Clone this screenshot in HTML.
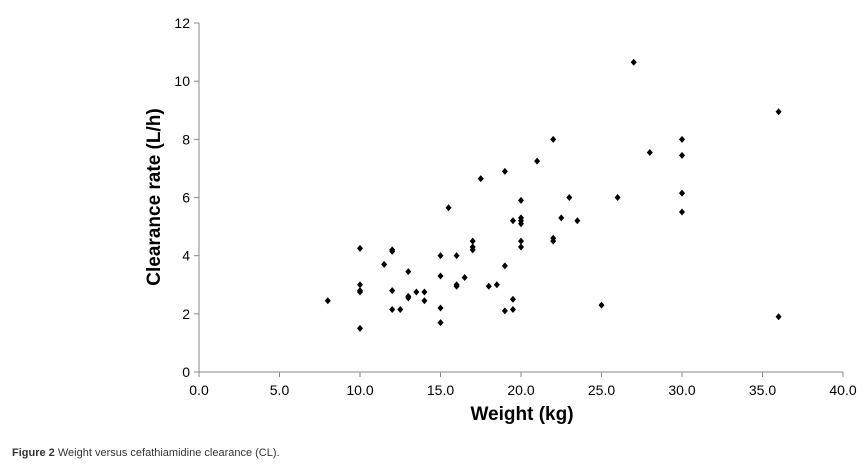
<!DOCTYPE html>
<html><head><meta charset="utf-8"><style>
body{margin:0;background:#fff;width:868px;height:462px;overflow:hidden;font-family:"Liberation Sans",sans-serif}
</style></head><body>
<svg width="868" height="462" id="chart">
<g id="axes"></g><g id="pts"></g>
<text x="12" y="456" font-size="11" fill="#333"><tspan font-weight="bold">Figure 2</tspan> Weight versus cefathiamidine clearance (CL).</text>
<text x="522" y="420" font-size="19" font-weight="bold" text-anchor="middle">Weight (kg)</text>
<text transform="translate(160,197) rotate(-90)" font-size="19" font-weight="bold" text-anchor="middle">Clearance rate (L/h)</text>
</svg>
<script>
const weights=[8,10,10,10,10,10,11.5,12,12,12,12,12.5,13,13,13,13.5,14,14,15,15,15,15,15.5,16,16,16,16.5,17,17,17,17.5,18,18.5,19,19,19,19.5,19.5,19.5,20,20,20,20,20,20,21,22,22,22,22.5,23,23.5,25,26,27,28,30,30,30,30,36,36];
const clearances=[2.45,4.25,3.0,2.8,2.75,1.5,3.7,4.2,4.15,2.8,2.15,2.15,3.45,2.6,2.55,2.75,2.75,2.45,4.0,3.3,2.2,1.7,5.65,4.0,3.0,2.95,3.25,4.5,4.3,4.2,6.65,2.95,3.0,6.9,3.65,2.1,5.2,2.5,2.15,5.9,5.3,5.1,4.5,4.3,5.2,7.25,8.0,4.6,4.5,5.3,6.0,5.2,2.3,6.0,10.65,7.55,8.0,7.45,6.15,5.5,8.95,1.9];
const xTicks=[0,5,10,15,20,25,30,35,40];
const yTicks=[0,2,4,6,8,10,12];
const NS="http://www.w3.org/2000/svg";
const X=v=>199+v*16.1, Y=v=>372-v*29.08;
function mk(t,a,p){const e=document.createElementNS(NS,t);for(const k in a)e.setAttribute(k,a[k]);p.appendChild(e);return e;}
const ax=document.getElementById('axes'), pts=document.getElementById('pts');
const xl=mk('line',{x1:X(0),y1:Y(0),x2:X(40),y2:Y(0),stroke:'#888','stroke-width':1},ax);


const yl=mk('line',{x1:X(0),y1:Y(0),x2:X(0),y2:Y(12),stroke:'#888','stroke-width':1},ax);


xTicks.forEach(v=>{
 mk('line',{x1:X(v),y1:Y(0),x2:X(v),y2:Y(0)+5,stroke:'#888'},ax);
 const t=mk('text',{x:X(v),y:Y(0)+23,'font-size':14,'text-anchor':'middle'},ax);
 t.textContent=v.toFixed(1);
 
 
});
yTicks.forEach(v=>{
 mk('line',{x1:X(0)-5,y1:Y(v),x2:X(0),y2:Y(v),stroke:'#888'},ax);
 const t=mk('text',{x:X(0)-9,y:Y(v)+5,'font-size':14,'text-anchor':'end'},ax);
 t.textContent=v;
 
 
});
weights.forEach((w,i)=>{
 const cx=X(w),cy=Y(clearances[i]);
 const p=mk('polygon',{points:`${cx},${cy-3.5} ${cx+3},${cy} ${cx},${cy+3.5} ${cx-3},${cy}`,fill:'#000'},pts);
 
 
});
</script>
</body></html>
